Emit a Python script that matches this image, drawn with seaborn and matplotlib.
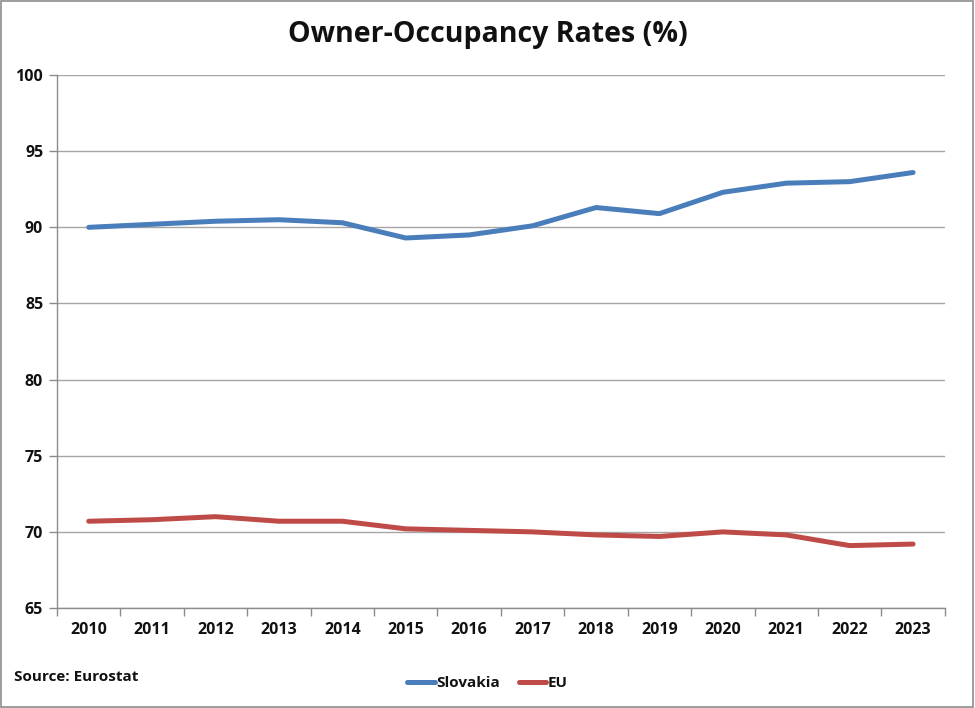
import matplotlib
matplotlib.use("Agg")
import matplotlib.pyplot as plt
from matplotlib.patches import Rectangle
import seaborn as sns
import pandas as pd
import numpy as np

# values (Eurostat owner-occupancy, %)
years = [2010, 2011, 2012, 2013, 2014, 2015, 2016,
         2017, 2018, 2019, 2020, 2021, 2022, 2023]
slovakia = [90.0, 90.2, 90.4, 90.5, 90.3, 89.3, 89.5,
            90.1, 91.3, 90.9, 92.3, 92.9, 93.0, 93.6]
eu = [70.7, 70.8, 71.0, 70.7, 70.7, 70.2, 70.1,
      70.0, 69.8, 69.7, 70.0, 69.8, 69.1, 69.2]
series_names = ["Slovakia", "EU"]
series_colors = ["#4A7EBB", "#BE4B48"]
y_ticks = [65, 70, 75, 80, 85, 90, 95, 100]

sns.set_theme(style="white")
plt.rcParams["font.family"] = ["Open Sans", "DejaVu Sans"]

df = pd.DataFrame({
    "pos": list(range(len(years))) * 2,
    "value": slovakia + eu,
    "series": [series_names[0]] * len(years) + [series_names[1]] * len(years),
})

fig = plt.figure(figsize=(9.75, 7.08), dpi=100)
ax = fig.add_axes([0.0585, 0.1412, 0.9105, 0.7528])

sns.lineplot(data=df, x="pos", y="value", hue="series",
             palette=dict(zip(series_names, series_colors)),
             linewidth=3.6, ax=ax, legend=False, solid_capstyle="round")

# axes setup, excel style
ax.set_xlim(-0.5, len(years) - 0.5)
ax.set_ylim(65, 100)
ax.set_yticks(y_ticks)
ax.set_yticklabels([str(t) for t in y_ticks], fontsize=11.5, fontweight="bold",
                   color="#111111")
ax.set_xticks(range(len(years)))
ax.set_xticklabels([str(y) for y in years], fontsize=11.5, fontweight="bold",
                   color="#111111")
ax.set_xticks(np.arange(-0.5, len(years), 1.0), minor=True)
ax.tick_params(axis="x", which="major", length=0, pad=10)
ax.tick_params(axis="x", which="minor", length=6, color="#8C8C8C", width=1,
               direction="out", bottom=True)
ax.tick_params(axis="y", length=6, color="#8C8C8C", width=1, direction="out",
               left=True, pad=4)
ax.set_xlabel("")
ax.set_ylabel("")
ax.grid(axis="y", color="#A6A6A6", linewidth=1)
ax.set_axisbelow(True)
for s in ["top", "right"]:
    ax.spines[s].set_visible(False)
for s in ["left", "bottom"]:
    ax.spines[s].set_color("#8C8C8C")
    ax.spines[s].set_linewidth(1)

fig.text(0.5, 0.951, "Owner-Occupancy Rates (%)", ha="center", va="center",
         fontsize=20.5, fontweight="bold", color="#111111")
fig.text(0.014, 0.044, "Source: Eurostat", ha="left", va="center",
         fontsize=11, fontweight="bold", color="#111111")

handles = [plt.Line2D([], [], color=c, linewidth=3.6, solid_capstyle="round")
           for c in series_colors]
fig.legend(handles, series_names, loc="center", bbox_to_anchor=(0.5, 0.035),
           ncol=2, frameon=False, handlelength=1.8, handletextpad=0.1,
           columnspacing=1.2, prop={"weight": "bold", "size": 11},
           labelcolor="#111111")

# outer border of the chart
fig.patches.append(Rectangle((0.001, 0.001), 0.997, 0.997, transform=fig.transFigure,
                             fill=False, edgecolor="#8C8C8C", linewidth=1.2))

fig.savefig("out.png", dpi=100)
